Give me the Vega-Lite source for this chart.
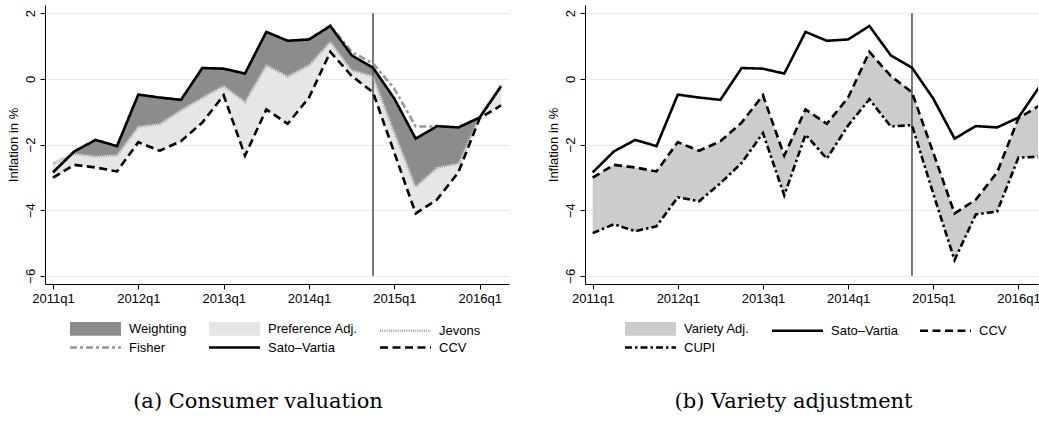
{
  "$schema": "https://vega.github.io/schema/vega-lite/v6.json",
  "background": "white",
  "padding": {"left": 7, "top": 5, "right": 0, "bottom": 5},
  "datasets": {
    "a": [
      {"t": 0, "sv": -2.85, "ccv": -3.01, "jev": -2.58, "fis": -2.85, "cupi": -4.70},
      {"t": 1, "sv": -2.21, "ccv": -2.62, "jev": -2.28, "fis": -2.21, "cupi": -4.43},
      {"t": 2, "sv": -1.86, "ccv": -2.70, "jev": -2.36, "fis": -1.86, "cupi": -4.64},
      {"t": 3, "sv": -2.05, "ccv": -2.82, "jev": -2.32, "fis": -2.05, "cupi": -4.49},
      {"t": 4, "sv": -0.48, "ccv": -1.93, "jev": -1.45, "fis": -0.48, "cupi": -3.61},
      {"t": 5, "sv": -0.57, "ccv": -2.19, "jev": -1.37, "fis": -0.57, "cupi": -3.73},
      {"t": 6, "sv": -0.64, "ccv": -1.90, "jev": -0.95, "fis": -0.64, "cupi": -3.18},
      {"t": 7, "sv": 0.33, "ccv": -1.33, "jev": -0.57, "fis": 0.33, "cupi": -2.56},
      {"t": 8, "sv": 0.31, "ccv": -0.50, "jev": -0.21, "fis": 0.31, "cupi": -1.65},
      {"t": 9, "sv": 0.16, "ccv": -2.34, "jev": -0.69, "fis": 0.16, "cupi": -3.55},
      {"t": 10, "sv": 1.43, "ccv": -0.93, "jev": 0.42, "fis": 1.43, "cupi": -1.70},
      {"t": 11, "sv": 1.16, "ccv": -1.37, "jev": 0.08, "fis": 1.16, "cupi": -2.43},
      {"t": 12, "sv": 1.20, "ccv": -0.57, "jev": 0.42, "fis": 1.20, "cupi": -1.42},
      {"t": 13, "sv": 1.61, "ccv": 0.82, "jev": 1.14, "fis": 1.63, "cupi": -0.62},
      {"t": 14, "sv": 0.72, "ccv": 0.09, "jev": 0.27, "fis": 0.82, "cupi": -1.45},
      {"t": 15, "sv": 0.34, "ccv": -0.41, "jev": 0.09, "fis": 0.47, "cupi": -1.41},
      {"t": 16, "sv": -0.60, "ccv": -2.25, "jev": -1.62, "fis": -0.30, "cupi": -3.50},
      {"t": 17, "sv": -1.82, "ccv": -4.10, "jev": -3.28, "fis": -1.45, "cupi": -5.52},
      {"t": 18, "sv": -1.44, "ccv": -3.68, "jev": -2.70, "fis": -1.45, "cupi": -4.13},
      {"t": 19, "sv": -1.48, "ccv": -2.85, "jev": -2.58, "fis": -1.48, "cupi": -4.04},
      {"t": 20, "sv": -1.18, "ccv": -1.20, "jev": -1.15, "fis": -1.18, "cupi": -2.40},
      {"t": 21, "sv": -0.23, "ccv": -0.81, "jev": -0.18, "fis": -0.23, "cupi": -2.37}
    ],
    "vline": [{"t": 15}]
  },
  "hconcat": [
    {
      "title": {"text": "(a) Consumer valuation", "orient": "bottom", "anchor": "middle", "font": "DejaVu Serif", "fontSize": 21, "fontWeight": "normal", "color": "#000", "offset": 36},
      "vconcat": [
        {
          "width": 464,
          "height": 279,
          "data": {"name": "a"},
          "encoding": {
            "x": {"field": "t", "type": "quantitative", "title": null,
                  "scale": {"domain": [-0.375, 21.375], "nice": false, "zero": false},
                  "axis": {"values": [0, 4, 8, 12, 16, 20], "labelExpr": "(2011 + datum.value/4) + 'q1'", "grid": false}}
          },
          "layer": [
            {
              "mark": {"type": "area", "opacity": 1},
              "encoding": {
                "y": {"field": "sv", "type": "quantitative", "title": "Inflation in %",
                      "scale": {"domain": [-6.25, 2.25], "nice": false, "zero": false},
                      "axis": {"values": [-6, -4, -2, 0, 2]}},
                "y2": {"field": "jev"},
                "color": {
                  "datum": "Weighting", "type": "nominal",
                  "scale": {"domain": ["Weighting", "Preference Adj.", "Jevons", "Fisher", "Sato–Vartia", "CCV"],
                            "range": ["#8c8c8c", "#e6e6e6", "#a6a6a6", "#999999", "#000000", "#000000"]},
                  "legend": {"legendX": 25, "legendY": 317, "title": null}
                }
              }
            },
            {
              "mark": {"type": "area", "opacity": 1},
              "encoding": {
                "y": {"field": "jev", "type": "quantitative", "title": "Inflation in %"},
                "y2": {"field": "ccv"},
                "color": {"datum": "Preference Adj.", "type": "nominal"}
              }
            },
            {
              "data": {"name": "vline"},
              "mark": {"type": "rule", "color": "#555555", "strokeWidth": 1.6},
              "encoding": {
                "y": {"datum": -6, "type": "quantitative"},
                "y2": {"datum": 2}
              }
            },
            {
              "mark": {"type": "line", "strokeWidth": 3},
              "encoding": {
                "y": {"field": "jev", "type": "quantitative", "title": "Inflation in %"},
                "color": {"datum": "Jevons", "type": "nominal"},
                "strokeDash": {
                  "datum": "Jevons", "type": "nominal",
                  "scale": {"domain": ["Weighting", "Preference Adj.", "Jevons", "Fisher", "Sato–Vartia", "CCV"],
                            "range": [[1, 0], [1, 0], [1, 1.2], [7, 3, 3, 3], [1, 0], [8, 4.5]]},
                  "legend": {"legendX": 25, "legendY": 317, "title": null}
                }
              }
            },
            {
              "mark": {"type": "line", "strokeWidth": 2.6},
              "encoding": {
                "y": {"field": "fis", "type": "quantitative", "title": "Inflation in %"},
                "color": {"datum": "Fisher", "type": "nominal"},
                "strokeDash": {"datum": "Fisher", "type": "nominal"}
              }
            },
            {
              "mark": {"type": "line", "strokeWidth": 2.6},
              "encoding": {
                "y": {"field": "sv", "type": "quantitative", "title": "Inflation in %"},
                "color": {"datum": "Sato–Vartia", "type": "nominal"},
                "strokeDash": {"datum": "Sato–Vartia", "type": "nominal"}
              }
            },
            {
              "mark": {"type": "line", "strokeWidth": 2.6},
              "encoding": {
                "y": {"field": "ccv", "type": "quantitative", "title": "Inflation in %"},
                "color": {"datum": "CCV", "type": "nominal"},
                "strokeDash": {"datum": "CCV", "type": "nominal"}
              }
            },
            {
              "data": {"name": "vline"},
              "mark": {"type": "point", "opacity": 0},
              "encoding": {
                "y": {"datum": 0, "type": "quantitative"},
                "shape": {
                  "datum": "Weighting", "type": "nominal",
                  "scale": {"domain": ["Weighting", "Preference Adj.", "Jevons", "Fisher", "Sato–Vartia", "CCV"],
                            "range": ["M-1.04,-1.1H8.64V1.1H-1.04Z", "M-1.04,-1.1H8.64V1.1H-1.04Z", "M-1.3,0H8.9", "M-1.3,0H8.9", "M-1.3,0H8.9", "M-1.3,0H8.9"]},
                  "legend": {"legendX": 25, "legendY": 317, "title": null}
                }
              }
            }
          ]
        }
      ]
    },
    {
      "title": {"text": "(b) Variety adjustment", "orient": "bottom", "anchor": "middle", "font": "DejaVu Serif", "fontSize": 21, "fontWeight": "normal", "color": "#000", "offset": 36},
      "vconcat": [
        {
          "width": 453,
          "height": 279,
          "data": {"name": "a"},
          "encoding": {
            "x": {"field": "t", "type": "quantitative", "title": null,
                  "scale": {"domain": [-0.36, 20.92], "nice": false, "zero": false},
                  "axis": {"values": [0, 4, 8, 12, 16, 20], "labelExpr": "(2011 + datum.value/4) + 'q1'", "grid": false}}
          },
          "layer": [
            {
              "mark": {"type": "area", "opacity": 1, "clip": true},
              "encoding": {
                "y": {"field": "ccv", "type": "quantitative", "title": "Inflation in %",
                      "scale": {"domain": [-6.25, 2.25], "nice": false, "zero": false},
                      "axis": {"values": [-6, -4, -2, 0, 2]}},
                "y2": {"field": "cupi"},
                "color": {
                  "datum": "Variety Adj.", "type": "nominal",
                  "scale": {"domain": ["Variety Adj.", "Sato–Vartia", "CCV", "CUPI"],
                            "range": ["#cccccc", "#000000", "#000000", "#000000"]},
                  "legend": {"legendX": 40, "legendY": 317, "title": null}
                }
              }
            },
            {
              "data": {"name": "vline"},
              "mark": {"type": "rule", "color": "#555555", "strokeWidth": 1.6},
              "encoding": {
                "y": {"datum": -6, "type": "quantitative"},
                "y2": {"datum": 2}
              }
            },
            {
              "mark": {"type": "line", "strokeWidth": 2.6, "clip": true},
              "encoding": {
                "y": {"field": "sv", "type": "quantitative", "title": "Inflation in %"},
                "color": {"datum": "Sato–Vartia", "type": "nominal"},
                "strokeDash": {
                  "datum": "Sato–Vartia", "type": "nominal",
                  "scale": {"domain": ["Variety Adj.", "Sato–Vartia", "CCV", "CUPI"],
                            "range": [[1, 0], [1, 0], [8, 4.5], [7, 3, 2.5, 3]]},
                  "legend": {"legendX": 40, "legendY": 317, "title": null}
                }
              }
            },
            {
              "mark": {"type": "line", "strokeWidth": 2.6, "clip": true},
              "encoding": {
                "y": {"field": "ccv", "type": "quantitative", "title": "Inflation in %"},
                "color": {"datum": "CCV", "type": "nominal"},
                "strokeDash": {"datum": "CCV", "type": "nominal"}
              }
            },
            {
              "mark": {"type": "line", "strokeWidth": 2.6, "clip": true},
              "encoding": {
                "y": {"field": "cupi", "type": "quantitative", "title": "Inflation in %"},
                "color": {"datum": "CUPI", "type": "nominal"},
                "strokeDash": {"datum": "CUPI", "type": "nominal"}
              }
            },
            {
              "data": {"name": "vline"},
              "mark": {"type": "point", "opacity": 0},
              "encoding": {
                "y": {"datum": 0, "type": "quantitative"},
                "shape": {
                  "datum": "Variety Adj.", "type": "nominal",
                  "scale": {"domain": ["Variety Adj.", "Sato–Vartia", "CCV", "CUPI"],
                            "range": ["M-1.04,-1.1H8.64V1.1H-1.04Z", "M-1.3,0H8.9", "M-1.3,0H8.9", "M-1.3,0H8.9"]},
                  "legend": {"legendX": 40, "legendY": 317, "title": null}
                }
              }
            }
          ]
        }
      ]
    }
  ],
  "spacing": 38,
  "resolve": {
    "scale": {"color": "independent", "strokeDash": "independent", "shape": "independent"},
    "legend": {"color": "independent", "strokeDash": "independent", "shape": "independent"}
  },
  "config": {
    "font": "Liberation Sans",
    "view": {"stroke": null},
    "axis": {"labelFont": "Liberation Sans", "labelFontSize": 13, "labelColor": "#000", "titleFont": "Liberation Sans", "titleFontSize": 13, "titleFontWeight": "normal", "titleColor": "#000", "domainColor": "#000", "tickColor": "#000", "tickSize": 5, "labelPadding": 3, "domainWidth": 1, "tickWidth": 1},
    "axisX": {"grid": false},
    "axisY": {"grid": true, "gridColor": "#e3ecee", "gridWidth": 1, "labelAngle": -90, "labelAlign": "center", "labelBaseline": "bottom", "titlePadding": 4},
    "legend": {
      "orient": "none", "direction": "horizontal", "columns": 3,
      "symbolSize": 100, "symbolStrokeWidth": 2.6, "symbolOpacity": 1, "symbolType": "M-1.3,0H8.9",
      "labelFont": "Liberation Sans", "labelFontSize": 13, "labelColor": "#000", "labelOffset": 46,
      "columnPadding": 16, "rowPadding": 1, "padding": 0, "labelLimit": 300
    }
  }
}
